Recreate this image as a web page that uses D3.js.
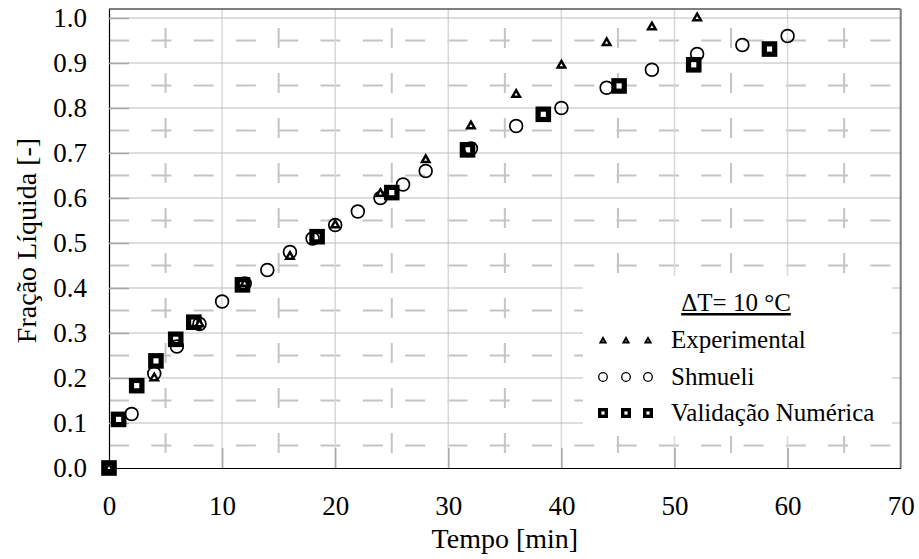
<!DOCTYPE html>
<html>
<head>
<meta charset="utf-8">
<script src="https://cdn.jsdelivr.net/npm/d3@7"></script>
<style>
  body { margin: 0; background: #fff; }
  text { font-family: "Liberation Serif", "Times New Roman", serif; fill: #000; }
</style>
</head>
<body>
<script>
const chart_width = 919;
const chart_height = 559;

// Experimental
const expTime = [0, 4, 8, 12, 16, 20, 24, 28, 32, 36, 40, 44, 48, 52];
const expFrac = [0, 0.20, 0.32, 0.41, 0.47, 0.54, 0.61, 0.685, 0.76, 0.83, 0.895, 0.945, 0.98, 1.0];

// Shmueli
const shmTime = [0, 2, 4, 6, 8, 10, 12, 14, 16, 18, 20, 22, 24, 26, 28, 32, 36, 40, 44, 48, 52, 56, 60];
const shmFrac = [0, 0.12, 0.21, 0.27, 0.32, 0.37, 0.41, 0.44, 0.48, 0.51, 0.54, 0.57, 0.60, 0.63, 0.66, 0.71, 0.76, 0.80, 0.845, 0.885, 0.92, 0.94, 0.96];

// Validação Numérica
const numTime = [0, 0.85, 2.45, 4.15, 5.9, 7.5, 11.8, 18.4, 25.0, 31.7, 38.4, 45.1, 51.7, 58.4];
const numFrac = [0, 0.108, 0.183, 0.238, 0.286, 0.324, 0.407, 0.514, 0.612, 0.707, 0.786, 0.849, 0.896, 0.931];

const xTicks = [0, 10, 20, 30, 40, 50, 60, 70];
const yTicks = [0, 0.1, 0.2, 0.3, 0.4, 0.5, 0.6, 0.7, 0.8, 0.9, 1.0];
const xMinor = [5, 15, 25, 35, 45, 55, 65];
const yMinor = [0.05, 0.15, 0.25, 0.35, 0.45, 0.55, 0.65, 0.75, 0.85, 0.95];

const legendTitle = "ΔT= 10 °C";
const legendLabels = ["Experimental", "Shmueli", "Validação Numérica"];

const xTitle = "Tempo [min]";
const yTitle = "Fração Líquida [-]";

const pLeft = 109, pTop = 9, pRight = 900.7, pBottom = 468;

const x = d3.scaleLinear().domain([0, 70]).range([pLeft, pRight]);
const y = d3.scaleLinear().domain([0, 1.02]).range([pBottom, pTop]);

let svg = d3.select("body")
    .append("svg")
    .attr("width", chart_width)
    .attr("height", chart_height)
    .attr("xmlns", "http://www.w3.org/2000/svg");

svg.append("rect")
    .attr("width", chart_width)
    .attr("height", chart_height)
    .style("fill", "#fff");

// grid
let grid = svg.append("g");

grid.selectAll(".hminor").data(yMinor).enter().append("line")
    .attr("x1", pLeft).attr("x2", pRight)
    .attr("y1", d => y(d)).attr("y2", d => y(d))
    .style("stroke", "#c4c4c4").style("stroke-width", 2)
    .style("stroke-dasharray", "20,22.3");

grid.selectAll(".vminor").data(xMinor).enter().append("line")
    .attr("x1", d => x(d)).attr("x2", d => x(d))
    .attr("y1", pTop).attr("y2", pBottom)
    .style("stroke", "#c4c4c4").style("stroke-width", 2)
    .style("stroke-dasharray", "20,25")
    .style("stroke-dashoffset", 26);

grid.selectAll(".vmajor").data(xTicks.slice(1, -1)).enter().append("line")
    .attr("x1", d => x(d)).attr("x2", d => x(d))
    .attr("y1", pTop).attr("y2", pBottom)
    .style("stroke", "#d8d8d8").style("stroke-width", 1.5);

grid.selectAll(".hmajor").data(yTicks.slice(1)).enter().append("line")
    .attr("x1", pLeft).attr("x2", pRight)
    .attr("y1", d => y(d)).attr("y2", d => y(d))
    .style("stroke", "#bcbcbc").style("stroke-width", 1);

// legend box covers the grid
const lg = { x0: 583, y0: 276, x1: 892, y1: 436, title: 311, rows: [340, 377, 413], marks: [603, 626, 648], text: 671 };

svg.append("rect")
    .attr("x", lg.x0).attr("y", lg.y0)
    .attr("width", lg.x1 - lg.x0).attr("height", lg.y1 - lg.y0)
    .style("fill", "#fff");

// axes
let xAxis = svg.append("g")
    .attr("transform", `translate(0,${pBottom})`)
    .call(d3.axisBottom(x).tickValues(xTicks).tickFormat(d3.format("d"))
        .tickSize(-20).tickSizeOuter(0).tickPadding(28));

let yAxis = svg.append("g")
    .attr("transform", `translate(${pLeft},0)`)
    .call(d3.axisLeft(y).tickValues(yTicks).tickFormat(d3.format(".1f"))
        .tickSize(-20).tickSizeOuter(0).tickPadding(22));

[xAxis, yAxis].forEach(a => {
    a.attr("font-family", null).attr("font-size", null);
    a.select(".domain").style("stroke", "#000").style("stroke-width", 1.2);
    a.selectAll(".tick line").style("stroke", "#a6a6a6").style("stroke-width", 1.5);
    a.selectAll(".tick text")
        .style("font-family", '"Liberation Serif", "Times New Roman", serif')
        .style("font-size", "27px")
        .style("fill", "#000");
});
xAxis.selectAll(".tick line").filter(d => d === 0 || d === 70).remove();
yAxis.selectAll(".tick line").filter(d => d === 0).remove();

// frame top / right
svg.append("line")
    .attr("x1", pLeft).attr("x2", pRight).attr("y1", pTop).attr("y2", pTop)
    .style("stroke", "#000").style("stroke-width", 1.2);
svg.append("line")
    .attr("x1", pRight).attr("x2", pRight).attr("y1", pTop).attr("y2", pBottom)
    .style("stroke", "#7a7a7a").style("stroke-width", 2);

// titles
svg.append("text")
    .attr("x", (pLeft + pRight) / 2).attr("y", 548)
    .attr("text-anchor", "middle")
    .style("font-size", "28px")
    .text(xTitle);

svg.append("text")
    .attr("transform", `translate(36,${(pTop + pBottom) / 2 + 2}) rotate(-90)`)
    .attr("text-anchor", "middle")
    .style("font-size", "28px")
    .text(yTitle);

// markers
const tri = d3.symbol().type(d3.symbolTriangle);

svg.append("g").selectAll("rect").data(d3.zip(numTime, numFrac)).enter().append("rect")
    .attr("x", d => x(d[0]) - 5.2).attr("y", d => y(d[1]) - 5.2)
    .attr("width", 10.4).attr("height", 10.4)
    .style("fill", "#fff").style("stroke", "#000").style("stroke-width", 5.2);

svg.append("g").selectAll("circle").data(d3.zip(shmTime, shmFrac)).enter().append("circle")
    .attr("cx", d => x(d[0])).attr("cy", d => y(d[1]))
    .attr("r", 6.4)
    .style("fill", "none").style("stroke", "#000").style("stroke-width", 1.7);

svg.append("g").selectAll("path").data(d3.zip(expTime, expFrac)).enter().append("path")
    .attr("d", tri.size(24))
    .attr("transform", d => `translate(${x(d[0])},${y(d[1])})`)
    .style("fill", "#fff").style("stroke", "#000").style("stroke-width", 2.5);

// legend
svg.append("text")
    .attr("x", 736).attr("y", lg.title)
    .attr("text-anchor", "middle")
    .style("font-size", "25px")
    .style("text-decoration", "underline")
    .text(legendTitle);

svg.append("g").selectAll("text").data(legendLabels).enter().append("text")
    .attr("x", lg.text).attr("y", (d, i) => lg.rows[i] + 7.5)
    .style("font-size", "25px")
    .text(d => d);

lg.marks.forEach(mx => {
    svg.append("path")
        .attr("d", d3.symbol().type(d3.symbolTriangle).size(11)())
        .attr("transform", `translate(${mx},${lg.rows[0] + 1})`)
        .style("fill", "#fff").style("stroke", "#000").style("stroke-width", 2);
    svg.append("circle")
        .attr("cx", mx).attr("cy", lg.rows[1]).attr("r", 4.3)
        .style("fill", "none").style("stroke", "#000").style("stroke-width", 1.3);
    svg.append("rect")
        .attr("x", mx - 3.3).attr("y", lg.rows[2] - 3.3)
        .attr("width", 6.6).attr("height", 6.6)
        .style("fill", "#fff").style("stroke", "#000").style("stroke-width", 3.4);
});
</script>
</body>
</html>
